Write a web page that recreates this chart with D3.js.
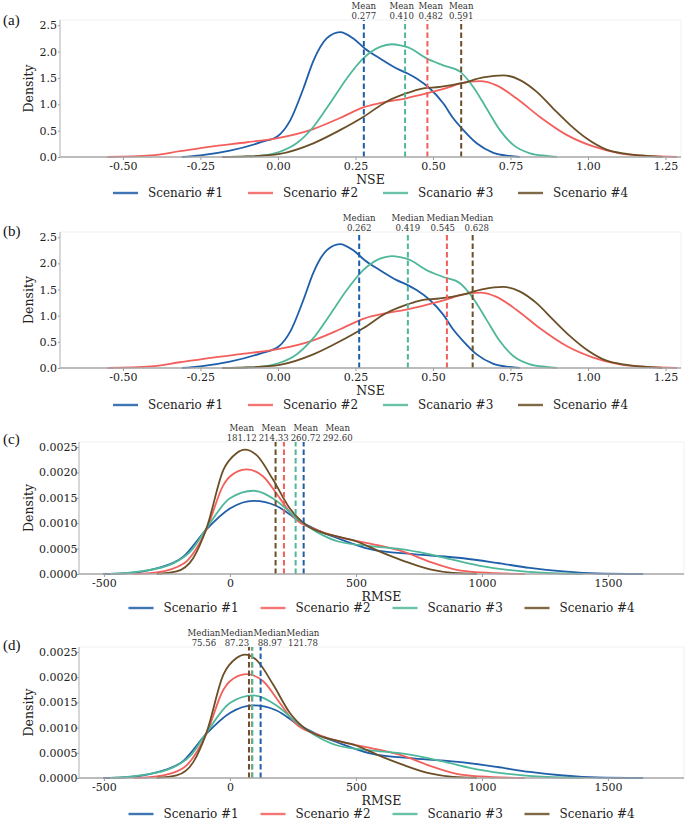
<!DOCTYPE html>
<html><head><meta charset="utf-8">
<script src="https://cdn.jsdelivr.net/npm/d3@7"></script>
<style>body{margin:0;background:#fff;}</style>
</head><body><svg id="c" width="685" height="821"></svg>
<script>
// ---------- DATA ----------
const scenarios = ["Scenario #1", "Scenario #2", "Scanario #3", "Scenario #4"];
const colors = ["#1f5ea8", "#f25f5c", "#4fb79a", "#6b4f27"];

// NSE kernel density curves [NSE, density]
const nseS1 = [[-0.31,0],[-0.25,0.03],[-0.155,0.12],[-0.05,0.29],[0,0.40],[0.04,0.70],[0.082,1.30],[0.114,1.82],[0.157,2.25],[0.2,2.37],[0.243,2.25],[0.28,2.06],[0.329,1.87],[0.383,1.68],[0.42,1.58],[0.447,1.49],[0.49,1.30],[0.533,1.02],[0.566,0.73],[0.598,0.51],[0.641,0.26],[0.695,0.08],[0.748,0.02],[0.78,0]];
const nseS2 = [[-0.55,0],[-0.41,0.03],[-0.316,0.11],[-0.21,0.20],[-0.1,0.28],[0,0.36],[0.114,0.53],[0.2,0.74],[0.275,0.94],[0.35,1.05],[0.41,1.11],[0.482,1.21],[0.555,1.33],[0.591,1.40],[0.652,1.44],[0.705,1.36],[0.77,1.11],[0.845,0.76],[0.931,0.42],[1.017,0.20],[1.103,0.07],[1.19,0.02],[1.287,0]];
const nseS3 = [[-0.18,0],[-0.1,0.01],[-0.048,0.03],[0.006,0.10],[0.06,0.26],[0.114,0.57],[0.168,1.02],[0.222,1.49],[0.275,1.87],[0.329,2.09],[0.367,2.14],[0.394,2.12],[0.42,2.08],[0.48,1.87],[0.533,1.74],[0.587,1.62],[0.63,1.33],[0.673,0.92],[0.716,0.51],[0.759,0.23],[0.813,0.07],[0.867,0.02],[0.90,0]];
const nseS4 = [[-0.18,0],[-0.1,0.01],[0.006,0.06],[0.114,0.26],[0.2,0.51],[0.275,0.76],[0.35,1.05],[0.42,1.22],[0.458,1.29],[0.523,1.33],[0.592,1.40],[0.662,1.51],[0.727,1.55],[0.781,1.46],[0.834,1.24],[0.888,0.92],[0.942,0.61],[0.996,0.35],[1.06,0.14],[1.125,0.06],[1.19,0.02],[1.24,0]];

// RMSE kernel density curves [RMSE, density]
const rmseS1 = [[-503,0],[-423,0.00001],[-291,0.00011],[-185,0.00034],[-93,0.00088],[0,0.00129],[93,0.00144],[185,0.00134],[265,0.00108],[344,0.00087],[430,0.00070],[556,0.00049],[727,0.00039],[926,0.00031],[1058,0.00022],[1190,0.00012],[1323,0.00005],[1455,0.00001],[1640,0]];
const rmseS2 = [[-383,0],[-291,0.00003],[-185,0.00020],[-93,0.00088],[-26,0.00175],[0,0.00192],[66,0.00206],[132,0.00192],[198,0.00149],[265,0.00106],[344,0.00087],[430,0.00073],[556,0.00060],[688,0.00044],[794,0.00024],[900,0.00008],[992,0.00003],[1170,0]];
const rmseS3 = [[-476,0],[-357,0.00005],[-225,0.00021],[-150,0.00048],[-93,0.00090],[0,0.00149],[93,0.00164],[185,0.00144],[265,0.00110],[344,0.00083],[430,0.00064],[556,0.00055],[680,0.00049],[780,0.00040],[860,0.00031],[992,0.00016],[1124,0.00007],[1257,0.00002],[1400,0]];
const rmseS4 = [[-291,0],[-212,0.00005],[-146,0.00031],[-93,0.00090],[-26,0.00205],[26,0.00238],[60,0.00245],[106,0.00234],[172,0.00185],[238,0.00129],[304,0.00096],[370,0.00081],[400,0.00077],[503,0.00064],[595,0.00044],[688,0.00026],[794,0.00009],[886,0.00002],[980,0]];

// Statistics per scenario (#1..#4)
const nseMeans = [0.277, 0.482, 0.410, 0.591];
const nseMedians = [0.262, 0.545, 0.419, 0.628];
const rmseMeans = [292.60, 214.33, 260.72, 181.12];
const rmseMedians = [121.78, 87.23, 88.97, 75.56];

// Ticks
const nseXTicks = [-0.5, -0.25, 0, 0.25, 0.5, 0.75, 1, 1.25];
const nseXTickLabels = ["-0.50", "-0.25", "0.00", "0.25", "0.50", "0.75", "1.00", "1.25"];
const nseYTicks = [0, 0.5, 1, 1.5, 2, 2.5];
const nseYTickLabels = ["0.0", "0.5", "1.0", "1.5", "2.0", "2.5"];
const rmseXTicks = [-500, 0, 500, 1000, 1500];
const rmseXTickLabels = ["-500", "0", "500", "1000", "1500"];
const rmseYTicks = [0, 0.0005, 0.001, 0.0015, 0.002, 0.0025];
const rmseYTickLabels = ["0.0000", "0.0005", "0.0010", "0.0015", "0.0020", "0.0025"];

// ---------- LAYOUT ----------
const SERIF = '"DejaVu Serif"';
const TIMES = '"Liberation Serif"';
const svg = d3.select("#c");
const nseCurves = [nseS1, nseS2, nseS3, nseS4];
const rmseCurves = [rmseS1, rmseS2, rmseS3, rmseS4];

const panels = [
  {tag:"(a)", tagY:25, left:60, right:681, top:20, bottom:157, xDom:[-0.703,1.30], yDom:[0,2.6],
   curves:nseCurves, xt:nseXTicks, xtl:nseXTickLabels, yt:nseYTicks, ytl:nseYTickLabels, ypad:1,
   stat:"Mean", vals:nseMeans, fmt:d3.format(".3f"), gap:29, xTitle:"NSE", legY:193, legStep:135},
  {tag:"(b)", tagY:236, left:60, right:681, top:232, bottom:368, xDom:[-0.703,1.30], yDom:[0,2.6],
   curves:nseCurves, xt:nseXTicks, xtl:nseXTickLabels, yt:nseYTicks, ytl:nseYTickLabels, ypad:1,
   stat:"Median", vals:nseMedians, fmt:d3.format(".3f"), gap:34, xTitle:"NSE", legY:405, legStep:135},
  {tag:"(c)", tagY:444, left:79, right:684, top:442, bottom:574, xDom:[-599,1802], yDom:[0,0.0026],
   curves:rmseCurves, xt:rmseXTicks, xtl:rmseXTickLabels, yt:rmseYTicks, ytl:rmseYTickLabels, ypad:-0.5,
   stat:"Mean", vals:rmseMeans, fmt:d3.format(".2f"), gap:32, xTitle:"RMSE", legY:608, legStep:132},
  {tag:"(d)", tagY:650, left:79, right:684, top:647, bottom:778, xDom:[-599,1802], yDom:[0,0.0026],
   curves:rmseCurves, xt:rmseXTicks, xtl:rmseXTickLabels, yt:rmseYTicks, ytl:rmseYTickLabels, ypad:-0.5,
   stat:"Median", vals:rmseMedians, fmt:d3.format(".2f"), gap:33, xTitle:"RMSE", legY:814, legStep:132}
];

panels.forEach(p => {
  const g = svg.append("g");
  const x = d3.scaleLinear().domain(p.xDom).range([p.left, p.right]);
  const y = d3.scaleLinear().domain(p.yDom).range([p.bottom, p.top]);

  g.append("rect").attr("x", p.left).attr("y", p.top)
    .attr("width", p.right - p.left).attr("height", p.bottom - p.top)
    .attr("fill", "none").attr("stroke", "#f1f1f1").attr("stroke-width", 1);

  const line = d3.line().x(d => x(d[0])).y(d => y(d[1])).curve(d3.curveMonotoneX);
  p.curves.forEach((c, i) => {
    g.append("path").attr("d", line(c)).attr("fill", "none")
      .attr("stroke", colors[i]).attr("stroke-width", 1.8);
  });

  p.vals.forEach((v, i) => {
    g.append("line").attr("x1", x(v)).attr("x2", x(v))
      .attr("y1", y(0)).attr("y2", p.top)
      .attr("stroke", colors[i]).attr("stroke-width", 2).attr("stroke-dasharray", "5.5,3");
  });

  const order = d3.range(4).sort((a, b) => p.vals[a] - p.vals[b]);
  const pos = order.map(i => x(p.vals[i]));
  for (let it = 0; it < 300; it++) {
    for (let k = 0; k < pos.length - 1; k++) {
      const d = pos[k + 1] - pos[k];
      if (d < p.gap) { const s = (p.gap - d) / 2; pos[k] -= s; pos[k + 1] += s; }
    }
  }
  order.forEach((i, k) => {
    const t = g.append("text").attr("x", pos[k]).attr("text-anchor", "middle")
      .attr("font-size", 8.6).attr("fill", "#333").style("font-family", SERIF);
    t.append("tspan").attr("x", pos[k]).attr("y", p.top - 11.5).text(p.stat);
    t.append("tspan").attr("x", pos[k]).attr("y", p.top - 1.5).text(p.fmt(p.vals[i]));
  });

  const xa = g.append("g").attr("transform", `translate(0,${p.bottom})`)
    .call(d3.axisBottom(x).tickValues(p.xt).tickFormat((d, i) => p.xtl[i]).tickSize(3).tickPadding(2));
  xa.select(".domain").remove();
  xa.selectAll("line").attr("stroke", "#999");
  xa.selectAll("text").attr("font-size", 11).attr("fill", "#222").style("font-family", SERIF);
  g.append("line").attr("x1", p.left).attr("x2", p.right).attr("y1", p.bottom).attr("y2", p.bottom)
    .attr("stroke", "#a8a8a8").attr("stroke-width", 1.6);

  const ya = g.append("g").attr("transform", `translate(${p.left},0)`)
    .call(d3.axisLeft(y).tickValues(p.yt).tickFormat((d, i) => p.ytl[i]).tickSize(2).tickPadding(p.ypad));
  ya.select(".domain").remove();
  ya.selectAll("line").attr("stroke", "#999");
  ya.selectAll("text").attr("font-size", 11).attr("fill", "#222").style("font-family", SERIF);
  g.append("line").attr("x1", p.left).attr("x2", p.left).attr("y1", p.top).attr("y2", p.bottom)
    .attr("stroke", "#b5b5b5").attr("stroke-width", 1);

  g.append("text").attr("transform", `translate(33,${(p.top + p.bottom) / 2}) rotate(-90)`)
    .attr("text-anchor", "middle").attr("font-size", 12.5).attr("fill", "#222")
    .style("font-family", SERIF).text("Density");
  g.append("text").attr("x", (p.left + p.right) / 2).attr("y", p.bottom + 26.5)
    .attr("text-anchor", "middle").attr("font-size", 12.5).attr("fill", "#222")
    .style("font-family", SERIF).text(p.xTitle);
  g.append("text").attr("x", 3).attr("y", p.tagY)
    .attr("font-size", 15).attr("fill", "#111").style("font-family", TIMES).text(p.tag);

  const itemW = 110;
  const total = p.legStep * 3 + itemW;
  const x0 = (p.left + p.right) / 2 - total / 2;
  scenarios.forEach((s, i) => {
    const lx = x0 + i * p.legStep;
    g.append("line").attr("x1", lx).attr("x2", lx + 25).attr("y1", p.legY).attr("y2", p.legY)
      .attr("stroke", colors[i]).attr("stroke-width", 2.4).attr("opacity", 0.85);
    g.append("text").attr("x", lx + 35).attr("y", p.legY + 4.3)
      .attr("font-size", 12).attr("fill", "#222").style("font-family", SERIF).text(s);
  });
});
</script>
</body></html>
